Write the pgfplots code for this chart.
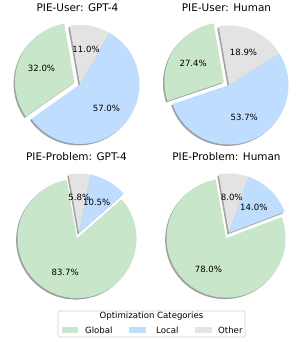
\documentclass[border=0pt]{standalone}
\usepackage{pgfplots}
\pgfplotsset{compat=1.18}
\usepackage{pgfplotstable}
\usepackage{fontspec}
\setmainfont{DejaVu Sans}
\definecolor{cGlobal}{HTML}{C8E6C9}
\definecolor{cLocal}{HTML}{BFDDFE}
\definecolor{cOther}{HTML}{E3E3E3}

\pgfplotstableread{
category value
Global 32.0
Local 57.0
Other 11.0
}\tUserGPT
\pgfplotstableread{
category value
Global 27.4
Local 53.7
Other 18.9
}\tUserHuman
\pgfplotstableread{
category value
Global 83.7
Local 10.5
Other 5.8
}\tProbGPT
\pgfplotstableread{
category value
Global 78.0
Local 14.0
Other 8.0
}\tProbHuman

\def\R{59.5}
\def\startangle{100}
\newcommand\drawpie[1]{%
  \pgfplotstablegetelem{0}{value}\of{#1}\edef\va{\pgfplotsretval}%
  \pgfplotstablegetelem{1}{value}\of{#1}\edef\vb{\pgfplotsretval}%
  \pgfplotstablegetelem{2}{value}\of{#1}\edef\vc{\pgfplotsretval}%
  \pgfmathsetmacro\aA{\startangle}%
  \pgfmathsetmacro\aB{\aA+3.6*\va}%
  \pgfmathsetmacro\aC{\aB+3.6*\vb}%
  \pgfmathsetmacro\aD{\aC+3.6*\vc}%
  \pgfmathsetmacro\mA{(\aA+\aB)/2}%
  \pgfmathsetmacro\mB{(\aB+\aC)/2}%
  \pgfmathsetmacro\mC{(\aC+\aD)/2}%
  \pgfmathsetmacro\ex{0.1*\R*cos(\mA)}%
  \pgfmathsetmacro\ey{0.1*\R*sin(\mA)}%
  \pgfmathsetmacro\sx{\ex-1.4}%
  \pgfmathsetmacro\sy{\ey-1.4}%
  \pgfmathsetmacro\lAx{\ex+0.6*\R*cos(\mA)}%
  \pgfmathsetmacro\lAy{\ey+0.6*\R*sin(\mA)}%
  \pgfmathsetmacro\lBx{0.6*\R*cos(\mB)}%
  \pgfmathsetmacro\lBy{0.6*\R*sin(\mB)}%
  \pgfmathsetmacro\lCx{0.6*\R*cos(\mC)}%
  \pgfmathsetmacro\lCy{0.6*\R*sin(\mC)}%
  \edef\doit{%
    \noexpand\fill[cGlobal!30!black, opacity=0.5] (axis cs:\sx,\sy) -- ++(\aA:\R bp) arc[start angle=\aA, end angle=\aB, radius=\R bp] -- cycle;
    \noexpand\fill[cLocal!30!black, opacity=0.5] (axis cs:-1.4,-1.4) -- ++(\aB:\R bp) arc[start angle=\aB, end angle=\aC, radius=\R bp] -- cycle;
    \noexpand\fill[cOther!30!black, opacity=0.5] (axis cs:-1.4,-1.4) -- ++(\aC:\R bp) arc[start angle=\aC, end angle=\aD, radius=\R bp] -- cycle;
    \noexpand\fill[cGlobal] (axis cs:\ex,\ey) -- ++(\aA:\R bp) arc[start angle=\aA, end angle=\aB, radius=\R bp] -- cycle;
    \noexpand\fill[cLocal] (axis cs:0,0) -- ++(\aB:\R bp) arc[start angle=\aB, end angle=\aC, radius=\R bp] -- cycle;
    \noexpand\fill[cOther] (axis cs:0,0) -- ++(\aC:\R bp) arc[start angle=\aC, end angle=\aD, radius=\R bp] -- cycle;
    \noexpand\node[font=\noexpand\pctfont, inner sep=0pt] at (axis cs:\lAx,\lAy) {\va\noexpand\%};
    \noexpand\node[font=\noexpand\pctfont, inner sep=0pt] at (axis cs:\lBx,\lBy) {\vb\noexpand\%};
    \noexpand\node[font=\noexpand\pctfont, inner sep=0pt] at (axis cs:\lCx,\lCy) {\vc\noexpand\%};
  }%
  \doit
}
\newcommand\pctfont{\fontsize{8.6}{10}\selectfont}
\newcommand\titlefont{\fontsize{10.5}{12}\selectfont}
\newcommand\legfont{\fontsize{8.6}{10}\selectfont}

\pgfplotsset{pieaxis/.style={anchor=center, x=1bp, y=1bp,
  xmin=-75, xmax=75, ymin=-75, ymax=75, hide axis, clip=false,
  title style={at={(0.4833,0.972)}, anchor=center, font=\titlefont, inner sep=0pt}}}

\begin{document}
\begin{tikzpicture}
\useasboundingbox (0,0) rectangle (304bp,342bp);
\begin{axis}[pieaxis, at={(80bp,257.5bp)}, title={PIE-User: GPT-4}]
\drawpie{\tUserGPT}
\end{axis}
\begin{axis}[pieaxis, at={(229bp,257bp)}, title={PIE-User: Human}]
\drawpie{\tUserHuman}
\end{axis}
\begin{axis}[pieaxis, at={(79bp,109bp)}, title={PIE-Problem: GPT-4}]
\drawpie{\tProbGPT}
\end{axis}
\begin{axis}[pieaxis, at={(229bp,109bp)}, title={PIE-Problem: Human}]
\drawpie{\tProbHuman}
\end{axis}
% legend
\draw[rounded corners=2bp, draw=black!18, fill=white, line width=0.6pt] (58bp,5bp) rectangle (245bp,31bp);
\node[font=\legfont, inner sep=0pt] at (151.5bp,25.5bp) {Optimization Categories};
\fill[cGlobal] (62bp,9bp) rectangle (78bp,15bp);
\fill[cLocal] (129bp,9bp) rectangle (146bp,15bp);
\fill[cOther] (195bp,9bp) rectangle (212bp,15bp);
\node[font=\legfont, anchor=west, inner sep=0pt] at (85bp,12bp) {Global};
\node[font=\legfont, anchor=west, inner sep=0pt] at (156bp,12bp) {Local};
\node[font=\legfont, anchor=west, inner sep=0pt] at (218bp,12bp) {Other};
\end{tikzpicture}
\end{document}
